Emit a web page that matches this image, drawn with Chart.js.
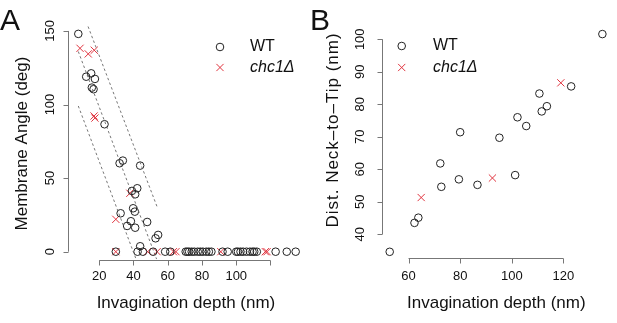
<!DOCTYPE html>
<html lang="en">
<head>
  <meta charset="UTF-8">
  <title>Membrane angle and neck-to-tip distance</title>
  <script src="https://cdn.jsdelivr.net/npm/chart.js"></script>
  <style>
    body { margin: 0; background: #fff; }
    .panel { position: absolute; top: 0; height: 323px; }
  </style>
</head>
<body>
  <div class="panel" style="left:0;width:310px"><canvas id="chartA" width="310" height="323"></canvas></div>
  <div class="panel" style="left:310px;width:307px"><canvas id="chartB" width="307" height="323"></canvas></div>
  <script>
    // Panel A: membrane angle vs invagination depth
    const wtAX = [7.8, 12.4, 15.3, 17.5, 15.7, 16.7, 23.1, 31.9, 33.8, 43.9, 42.2, 39.1, 41.0, 39.8, 40.8,
                  32.5, 38.5, 48.0, 36.3, 41.0, 54.4, 52.9, 43.9,
                  29.7, 42.4, 45.5, 51.5, 58.5, 61.5, 70.5, 71.5, 72.5, 74, 75.5, 77.5, 79, 80.5, 82.5, 84,
                  85.5, 92, 95, 100, 101, 102.5, 104, 106, 108, 109.5, 110.5, 112, 123, 129.5, 134.7];
    const wtAY = [148.0, 118.9, 121.2, 117.4, 111.5, 110.4, 86.6, 60.1, 61.9, 58.5, 43.1, 41.3, 39.0, 29.5, 27.2,
                  26.1, 20.7, 20.2, 17.5, 16.3, 11.4, 9.1, 3.7,
                  0, 0, 0, 0, 0, 0, 0, 0, 0, 0, 0, 0, 0, 0, 0, 0,
                  0, 0, 0, 0, 0, 0, 0, 0, 0, 0, 0, 0, 0, 0, 0];
    const chcAX = [8.8, 13.6, 17.1, 17.0, 17.5, 37.9, 29.7, 29.7, 48.3, 53.8, 63.3, 64.8, 91, 117, 118];
    const chcAY = [138.2, 134.4, 136.9, 92.2, 90.8, 39.7, 22.0, 0, 0, 0, 0, 0, 0, 0, 0];

    // dashed guide lines in panel A (start/end in data units)
    const upperLineX = [13.5, 53.8], upperLineY = [153, 30.5];
    const midLineX = [7.8, 53.5], midLineY = [136, -5];
    const lowerLineX = [7.8, 41.5], lowerLineY = [99, -5];

    const xTicksA = [20, 40, 60, 80, 100, 120];
    const xLabelsA = ['20', '40', '60', '80', '100', ''];
    const yTicksA = [0, 50, 100, 150];

    // Panel B: neck-to-tip distance vs invagination depth
    const wtBX = [52.7, 62.3, 63.8, 72.3, 72.7, 79.5, 80.0, 86.7, 95.2, 101.3, 102.2, 105.6, 110.7, 111.6, 113.6, 123.0, 135.1];
    const wtBY = [34.6, 43.5, 45.1, 61.8, 54.6, 56.9, 71.4, 55.2, 69.7, 58.2, 76.0, 73.3, 83.3, 77.8, 79.4, 85.5, 101.6];
    const chcBX = [64.9, 92.5, 119.0];
    const chcBY = [51.3, 57.3, 86.6];

    const xTicksB = [60, 80, 100, 120];
    const xLabelsB = ['60', '80', '100', '120'];
    const yTicksB = [40, 50, 60, 70, 80, 90, 100];

    const RED = '#e0343f';
    const FONT = '"Liberation Sans", Arial, sans-serif';

    const pts = (xs, ys) => xs.map((x, i) => ({ x: x, y: ys[i] }));

    function drawMarker(ctx, kind, x, y) {
      ctx.save();
      ctx.lineWidth = 1;
      if (kind === 'circle') {
        ctx.strokeStyle = '#222';
        ctx.beginPath(); ctx.arc(x, y, 3.8, 0, Math.PI * 2); ctx.stroke();
      } else {
        ctx.strokeStyle = RED;
        ctx.beginPath();
        ctx.moveTo(x - 3.6, y - 3.6); ctx.lineTo(x + 3.6, y + 3.6);
        ctx.moveTo(x - 3.6, y + 3.6); ctx.lineTo(x + 3.6, y - 3.6);
        ctx.stroke();
      }
      ctx.restore();
    }

    // R-style axes, titles, legend and panel letter
    const rStyle = {
      id: 'rStyle',
      afterDatasetsDraw(chart, args, o) {
        const ctx = chart.ctx, xs = chart.scales.x, ys = chart.scales.y, area = chart.chartArea;
        ctx.save();
        ctx.strokeStyle = '#777';
        ctx.lineWidth = 1;
        ctx.beginPath();
        const by = Math.round(area.bottom) + 0.5;
        ctx.moveTo(xs.getPixelForValue(o.xTicks[0]), by);
        ctx.lineTo(xs.getPixelForValue(o.xTicks[o.xTicks.length - 1]), by);
        o.xTicks.forEach(v => {
          const p = Math.round(xs.getPixelForValue(v)) + 0.5;
          ctx.moveTo(p, by); ctx.lineTo(p, by + 5);
        });
        const lx = Math.round(area.left) + 0.5;
        ctx.moveTo(lx, ys.getPixelForValue(o.yTicks[0]));
        ctx.lineTo(lx, ys.getPixelForValue(o.yTicks[o.yTicks.length - 1]));
        o.yTicks.forEach(v => {
          const p = Math.round(ys.getPixelForValue(v)) + 0.5;
          ctx.moveTo(lx, p); ctx.lineTo(lx - 5, p);
        });
        ctx.stroke();

        ctx.fillStyle = '#111';
        ctx.font = '13px ' + FONT;
        ctx.textAlign = 'center';
        ctx.textBaseline = 'middle';
        o.xTicks.forEach((v, i) => ctx.fillText(o.xLabels[i], xs.getPixelForValue(v), 276.5));
        o.yTicks.forEach(v => {
          ctx.save();
          ctx.translate(50, ys.getPixelForValue(v));
          ctx.rotate(-Math.PI / 2);
          ctx.fillText(String(v), 0, 0);
          ctx.restore();
        });

        ctx.font = '17px ' + FONT;
        ctx.fillText(o.xTitle, (area.left + area.right) / 2, 303);
        ctx.save();
        ctx.translate(o.yTitleX, o.yTitleY);
        ctx.rotate(-Math.PI / 2);
        if (o.yTitleSpacing) ctx.letterSpacing = o.yTitleSpacing;
        ctx.fillText(o.yTitle, 0, 0);
        ctx.restore();

        // legend
        drawMarker(ctx, 'circle', o.legX, o.legY[0]);
        drawMarker(ctx, 'cross', o.legX, o.legY[1]);
        ctx.textAlign = 'left';
        ctx.font = '16px ' + FONT;
        ctx.fillText('WT', o.legTextX, o.legY[0]);
        ctx.font = 'italic 16px ' + FONT;
        ctx.fillText('chc1\u0394', o.legTextX, o.legY[1]);

        // panel letter
        ctx.font = '30px ' + FONT;
        ctx.textBaseline = 'alphabetic';
        ctx.fillText(o.letter, 0, 29.5);
        ctx.restore();
      }
    };

    function seriesSets(wx, wy, cx, cy) {
      return [
        {
          label: 'WT', data: pts(wx, wy),
          pointStyle: 'circle', pointRadius: 3.8, borderWidth: 1,
          borderColor: '#222', backgroundColor: 'rgba(0,0,0,0)', clip: false
        },
        {
          label: 'chc1\u0394', data: pts(cx, cy),
          pointStyle: 'crossRot', pointRadius: 5.1, borderWidth: 1,
          borderColor: RED, backgroundColor: RED, clip: false
        }
      ];
    }

    function guide(xs, ys) {
      return {
        type: 'line', data: pts(xs, ys), showLine: true, pointRadius: 0,
        borderColor: '#666', borderWidth: 0.9, borderDash: [2.5, 2.5], fill: false
      };
    }

    const baseOpts = (pad, xr, yr, axes) => ({
      responsive: false,
      animation: false,
      events: [],
      layout: { padding: pad },
      plugins: { legend: { display: false }, tooltip: { enabled: false }, rStyle: axes },
      scales: {
        x: { type: 'linear', display: false, min: xr[0], max: xr[1] },
        y: { type: 'linear', display: false, min: yr[0], max: yr[1] }
      }
    });

    new Chart(document.getElementById('chartA'), {
      type: 'scatter',
      data: {
        datasets: [
          guide(upperLineX, upperLineY),
          guide(midLineX, midLineY),
          guide(lowerLineX, lowerLineY),
          ...seriesSets(wtAX, wtAY, chcAX, chcAY)
        ]
      },
      options: baseOpts({ left: 68, right: 5.5, top: 25.2, bottom: 63 }, [1.78, 139.5], [-5.64, 153.9], {
        xTicks: xTicksA, xLabels: xLabelsA, yTicks: yTicksA,
        xTitle: 'Invagination depth (nm)', yTitle: 'Membrane Angle (deg)',
        yTitleX: 22, yTitleY: 143.5,
        legX: 220, legY: [47, 67.5], legTextX: 250, letter: 'A'
      }),
      plugins: [rStyle]
    });

    new Chart(document.getElementById('chartB'), {
      type: 'scatter',
      data: { datasets: seriesSets(wtBX, wtBY, chcBX, chcBY) },
      options: baseOpts({ left: 71.7, right: 0, top: 25.3, bottom: 64.7 }, [49.6, 138.4], [32.6, 104.3], {
        xTicks: xTicksB, xLabels: xLabelsB, yTicks: yTicksB,
        xTitle: 'Invagination depth (nm)', yTitle: 'Dist. Neck\u2013to\u2013Tip (nm)',
        yTitleX: 23.5, yTitleY: 130, yTitleSpacing: '1px',
        legX: 91.7, legY: [46, 67.5], legTextX: 123, letter: 'B'
      }),
      plugins: [rStyle]
    });
  </script>
</body>
</html>
